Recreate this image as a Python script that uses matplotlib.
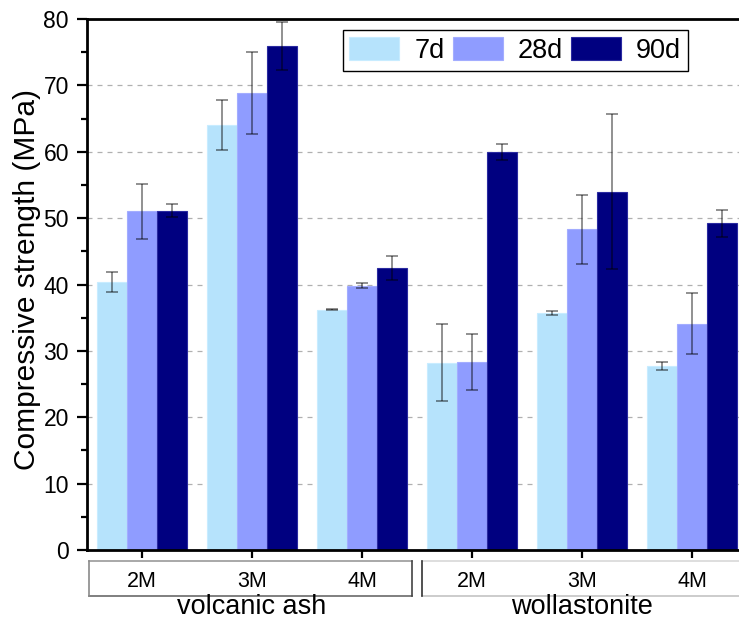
import numpy as np
import matplotlib
matplotlib.use("Agg")
import matplotlib.pyplot as plt
from matplotlib.transforms import blended_transform_factory
from matplotlib.lines import Line2D

plt.rcParams["font.family"] = ["Liberation Sans", "DejaVu Sans"]

# compressive strength per mix, two precursors x three molarities
sub_labels = ["2M", "3M", "4M", "2M", "3M", "4M"]
groups = ["volcanic ash", "wollastonite"]
ages = ["7d", "28d", "90d"]

mean_7d = [40.4, 64.0, 36.2, 28.2, 35.7, 27.7]
mean_28d = [51.0, 68.9, 39.8, 28.3, 48.3, 34.1]
mean_90d = [51.1, 75.9, 42.5, 59.9, 54.0, 49.2]
err_7d = [1.5, 3.8, 0.1, 5.8, 0.3, 0.6]
err_28d = [4.1, 6.2, 0.4, 4.2, 5.2, 4.6]
err_90d = [1.0, 3.6, 1.8, 1.2, 11.7, 2.0]

colors = ["#b6e3fc", "#8f9cff", "#000080"]
edges = ["#c8ecff", "#a3adff", "#2a2aa0"]

fig = plt.figure(figsize=(7.39, 6.23), dpi=100)
ax = fig.add_axes([87 / 739, 73 / 623, 660 / 739, 531 / 623])

x = np.arange(len(sub_labels))
w = 0.27
means = [mean_7d, mean_28d, mean_90d]
errs = [err_7d, err_28d, err_90d]
for i, (m, e) in enumerate(zip(means, errs)):
    ax.bar(x + (i - 1) * w, m, w, color=colors[i], edgecolor=edges[i],
           linewidth=0.8, label=ages[i], zorder=2)
    ax.errorbar(x + (i - 1) * w, m, yerr=e, fmt="none", ecolor="black",
                alpha=0.55, elinewidth=1.1, capsize=4, capthick=1.1, zorder=3)

ax.set_xlim(-0.5, 5.5)
ax.set_ylim(0, 80)
ax.set_yticks(np.arange(0, 81, 10))
ax.set_yticks(np.arange(5, 80, 10), minor=True)
ax.set_xticks(x)
ax.set_xticklabels(sub_labels)
ax.tick_params(axis="y", labelsize=16.5, length=7, width=1.6, pad=6)
ax.tick_params(axis="y", which="minor", length=4, width=1.6)
ax.tick_params(axis="y", which="both", right=True)
ax.tick_params(axis="x", labelsize=15.5, length=6, width=1.6, pad=9)

for s in ["left", "bottom", "top", "right"]:
    ax.spines[s].set_linewidth(2)

for yv in range(10, 80, 10):
    ax.axhline(yv, color="#b0b0b0", lw=0.9, ls=(0, (4, 4)), zorder=1)

ax.set_ylabel("Compressive strength (MPa)", fontsize=21.5, labelpad=2)
ax.yaxis.label.set_y(0.51)

# boxes around the molarity labels, one per precursor
trans = blended_transform_factory(ax.transData, ax.transAxes)
y0, y1 = -0.0207, -0.0866
ax.add_line(Line2D([-0.48, 2.455], [y0, y0], transform=trans, color="#9a9a9a", lw=1.2, clip_on=False))
ax.add_line(Line2D([-0.48, 2.455], [y1, y1], transform=trans, color="#6a6a6a", lw=1.2, clip_on=False))
ax.add_line(Line2D([-0.48, -0.48], [y0, y1], transform=trans, color="#8a8a8a", lw=1.2, clip_on=False))
ax.add_line(Line2D([2.455, 2.455], [y0, y1], transform=trans, color="#444444", lw=1.2, clip_on=False))
ax.add_line(Line2D([2.545, 5.6], [y0, y0], transform=trans, color="#d8d8d8", lw=1.2, clip_on=False))
ax.add_line(Line2D([2.545, 5.6], [y1, y1], transform=trans, color="#c4c4c4", lw=1.2, clip_on=False))
ax.add_line(Line2D([2.545, 2.545], [y0, y1], transform=trans, color="#333333", lw=1.2, clip_on=False))

for gi, g in enumerate(groups):
    ax.text(gi * 3 + 1, -0.107, g, transform=trans, ha="center", va="center",
            fontsize=19.5)

ax.legend(ncol=3, loc="upper right", bbox_to_anchor=(688 / 739, 1 - 30 / 623),
          bbox_transform=fig.transFigure, fontsize=19.5, frameon=True,
          fancybox=False, edgecolor="black", framealpha=1, handlelength=1.85,
          handleheight=0.95, handletextpad=0.55, columnspacing=0.3,
          borderpad=0.25, borderaxespad=0)
ax.get_legend().get_frame().set_linewidth(1)

fig.savefig("out.png", dpi=100)
